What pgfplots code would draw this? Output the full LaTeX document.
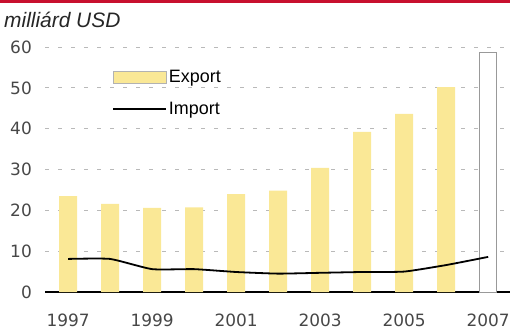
\documentclass[border=0pt]{standalone}
\usepackage{fontspec}
\setmainfont{Liberation Sans}
\newfontfamily\tickfont{DejaVu Sans}
\usepackage{pgfplots}
\pgfplotsset{compat=1.18}
\definecolor{barY}{RGB}{250,232,150}
\definecolor{topred}{RGB}{200,16,46}
\begin{document}
\begin{tikzpicture}[x=1bp,y=1bp]
\path[use as bounding box] (0,0) rectangle (510,332);
\fill[topred] (0,328.5) rectangle (510,332);
\node[anchor=base west, inner sep=0pt, font=\fontsize{21}{24}\selectfont\itshape, text=black!85] at (4,305) {milliárd USD};
\begin{axis}[
  at={(45bp,40bp)}, anchor=south west, scale only axis,
  width=465bp, height=245bp,
  xmin=1996.45, xmax=2007.52, ymin=0, ymax=60,
  axis x line*=bottom, axis y line*=left,
  x axis line style={-, line width=1.6bp, black},
  y axis line style={draw=none},
  xtick={1997,1999,2001,2003,2005,2007},
  xticklabels={1997,1999,2001,2003,2005,2007},
  ytick={0,10,20,30,40,50,60},
  major tick length=0pt,
  tick style={draw=none},
  /pgf/number format/assume math mode=true,
  ticklabel style={font=\tickfont\fontsize{17}{20}\selectfont, text=black!72},
  xticklabel style={anchor=base, yshift=-34bp, inner sep=0pt},
  yticklabel style={anchor=east, inner sep=0pt, xshift=-13bp},
  ymajorgrids,
  major grid style={gray!55, line width=1bp, dash pattern=on 4bp off 9bp},
  clip=false,
  legend style={at={(rel axis cs:0.144,0.914)}, anchor=north west, draw=none, fill=none,
    font=\fontsize{18}{20}\selectfont, inner sep=0pt, row sep=14bp},
  legend cell align=left,
]
\addplot[ybar, bar width=18bp, bar shift=0pt, fill=barY, draw=none,
  legend image code/.code={\filldraw[fill=barY, draw=gray!60, line width=0.6bp] (0bp,-6bp) rectangle (53bp,6bp);}]
  coordinates {(1997,23.5) (1998,21.6) (1999,20.6) (2000,20.7) (2001,24.0) (2002,24.8) (2003,30.4) (2004,39.2) (2005,43.6) (2006,50.2)};
\addlegendentry{Export}
\addplot[ybar, bar width=17bp, bar shift=0pt, fill=white, draw=gray!80, line width=1bp, forget plot]
  coordinates {(2007,58.7)};
\addplot[black, line width=1.8bp, smooth, tension=0.3, mark=none,
  legend image code/.code={\draw[black, line width=1.8bp] (0bp,0bp) -- (53bp,0bp);}]
  coordinates {(1997,8.1) (1998,8.1) (1999,5.6) (2000,5.6) (2001,4.9) (2002,4.5) (2003,4.7) (2004,4.9) (2005,5.0) (2006,6.6) (2007,8.6)};
\addlegendentry{Import}
\end{axis}
\end{tikzpicture}
\end{document}
